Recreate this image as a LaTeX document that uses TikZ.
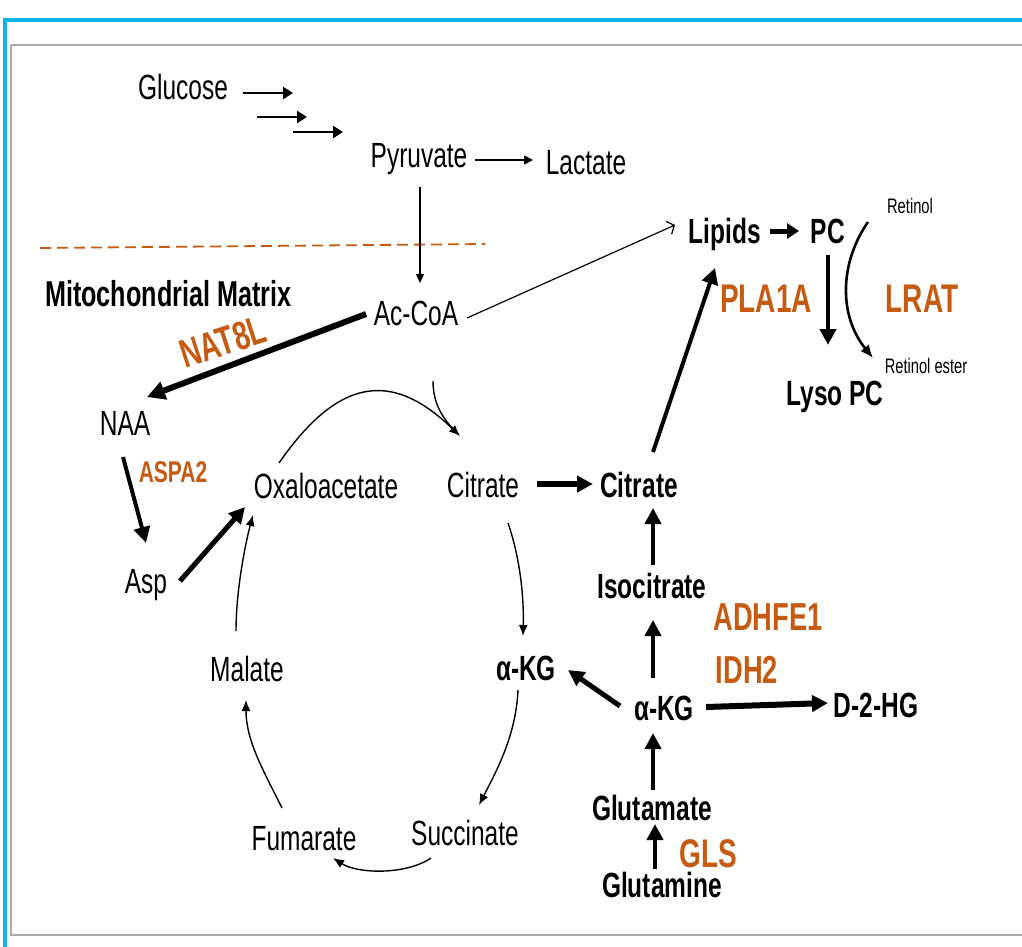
\documentclass[tikz,border=0pt]{standalone}
\usepackage{fontspec}
\setmainfont{Liberation Sans}[FakeStretch=0.7]
\usetikzlibrary{arrows.meta}
\definecolor{enzorange}{HTML}{C55A11}
\definecolor{framecyan}{HTML}{0BB4E4}
\definecolor{boxgray}{HTML}{AAAAAA}
\begin{document}
\begin{tikzpicture}[x=1pt,y=-1pt,
  met/.style={font=\fontsize{35}{42}\selectfont, anchor=base, inner sep=0pt},
  metb/.style={font=\fontsize{35}{42}\selectfont\bfseries, anchor=base, inner sep=0pt},
  enz/.style={font=\fontsize{40}{48}\selectfont\bfseries, text=enzorange, anchor=base, inner sep=0pt},
  smalllbl/.style={font=\fontsize{21}{25}\selectfont, anchor=base, inner sep=0pt},
  rxn/.style={line width=1.4pt, -{Latex[length=11pt,width=9pt]}},
  glyco/.style={line width=2.4pt, -{Triangle[length=10pt,width=12pt]}},
  flux/.style={line width=#1, -{Triangle[length=16pt,width=16pt]}},
  flux/.default=4.5pt,
  cshift/.style={shift={#1}}
]
\useasboundingbox (0,0) rectangle (1022,946);

% frame
\draw[framecyan, line width=4pt] (4.5,950) -- (4.5,20) -- (1030,20);
\draw[boxgray, line width=2pt] (11,45) -- (11,935) -- (1030,935) (11,45) -- (1030,45);

% membrane
\coordinate (memL) at (40,248);
\coordinate (memR) at (485,244);
\draw[enzorange, line width=1.8pt, dash pattern=on 11pt off 6pt] (memL) -- (memR);

% metabolites
\node[met]  (glc)  at (183,99)  {Glucose};
\node[met]  (pyr)  at (419,167) {Pyruvate};
\node[met]  (lac)  at (586,174) {Lactate};
\node[met]  (acoa) at (416,325) {Ac-CoA};
\node[font=\fontsize{36}{42}\selectfont\bfseries, anchor=base west, inner sep=0pt] (mito) at (45,306) {Mitochondrial Matrix};
\node[met]  (naa)  at (125,435) {NAA};
\node[met]  (asp)  at (146,593) {Asp};
\node[met]  (oxa)  at (326,498) {Oxaloacetate};
\node[met]  (cit)  at (483,497) {Citrate};
\node[metb] (citb) at (639,497) {Citrate};
\node[metb] (iso)  at (652,598) {Isocitrate};
\node[met]  (mal)  at (247,681) {Malate};
\node[metb] (akgl) at (526,680) {α-KG};
\node[metb] (akgr) at (664,720) {α-KG};
\node[metb] (d2hg) at (876,717) {D-2-HG};
\node[metb] (glut) at (652,820) {Glutamate};
\node[metb] (glnn) at (662,897) {Glutamine};
\node[met]  (fum)  at (304,850) {Fumarate};
\node[met]  (suc)  at (465,845) {Succinate};
\node[metb] (lip)  at (725,243) {Lipids};
\node[metb] (pc)   at (828,243) {PC};
\node[metb] (lyso) at (835,405) {Lyso PC};
\node[smalllbl] (ret)  at (910,213) {Retinol};
\node[smalllbl] (rete) at (926,373) {Retinol ester};

% enzymes
\node[enz, anchor=center, rotate=18] (nat) at (223,342) {NAT8L};
\node[enz, font=\fontsize{30}{36}\selectfont\bfseries] (aspa) at (173,482) {ASPA2};
\node[enz] (pla)  at (766,312) {PLA1A};
\node[enz] (lrat) at (922,312) {LRAT};
\node[enz, font=\fontsize{39}{46}\selectfont\bfseries] (adh) at (768,630) {ADHFE1};
\node[enz, font=\fontsize{39}{46}\selectfont\bfseries] (idh) at (747,683) {IDH2};
\node[enz] (gls)  at (708,867) {GLS};

% glycolysis steps
\draw[glyco] ([cshift={(60,-6)}]glc.base) -- ([cshift={(110,-6)}]glc.base);
\draw[glyco] ([cshift={(74,18)}]glc.base) -- ([cshift={(124,18)}]glc.base);
\draw[glyco] ([cshift={(110,33)}]glc.base) -- ([cshift={(160,33)}]glc.base);

\draw[line width=1.6pt, -{Triangle[length=9pt,width=9pt]}] ([cshift={(56,-7)}]pyr.base) -- ([cshift={(-53,-14)}]lac.base);
\draw[line width=1.2pt, -{Triangle[length=9pt,width=8pt]}] ([cshift={(1,20)}]pyr.base) -- ([cshift={(4,-42)}]acoa.base);

% acetyl-CoA branches
\draw[line width=1.2pt, -{Straight Barb[length=6pt,width=14pt]}] ([cshift={(51,-7)}]acoa.base) -- ([cshift={(-50,-18)}]lip.base);
\draw[flux=6pt, -{Triangle[length=18pt,width=18pt]}] ([cshift={(-50,-11)}]acoa.base) -- ([cshift={(22,-38)}]naa.base);
\draw[flux=4pt] ([cshift={(-2,22)}]naa.base) -- ([cshift={(0,-50)}]asp.base);
\draw[flux=5pt] ([cshift={(34,-12)}]asp.base) -- ([cshift={(-81,9)}]oxa.base);

% lipid side
\draw[flux=5pt, -{Triangle[length=12pt,width=15pt]}] ([cshift={(45,-12)}]lip.base) -- ([cshift={(-29,-12)}]pc.base);
\draw[flux=4pt] ([cshift={(0,12)}]pc.base) -- ([cshift={(-7,-60)}]lyso.base);
\draw[line width=2.6pt, -{Latex[length=13pt,width=11pt]}] ([cshift={(-42,9)}]ret.base) .. controls +(-28,40) and +(-35,-43) .. ([cshift={(-53,-15)}]rete.base);
\draw[flux=4pt] ([cshift={(14,-45)}]citb.base) -- ([cshift={(-10,25)}]lip.base);

% TCA cycle
\draw[rxn] ([cshift={(-47,-35)}]oxa.base) .. controls +(63,-91) and +(-64,-62) .. ([cshift={(-23,-61)}]cit.base);
\draw[line width=1.4pt] ([cshift={(17,56)}]acoa.base) .. controls +(0,25) and +(-12,-12) .. ([cshift={(-26,-64)}]cit.base);
\draw[rxn] ([cshift={(25,26)}]cit.base) .. controls +(12,35) and +(1,-40) .. ([cshift={(-3,-44)}]akgl.base);
\draw[rxn] ([cshift={(-8,10)}]akgl.base) .. controls +(-2,45) and +(18,-35) .. ([cshift={(14,-40)}]suc.base);
\draw[rxn] ([cshift={(-34,13)}]suc.base) .. controls +(-25,17) and +(25,16) .. ([cshift={(29,8)}]fum.base);
\draw[rxn] ([cshift={(-22,-42)}]fum.base) .. controls +(-20,-40) and +(0,40) .. ([cshift={(-1,19)}]mal.base);
\draw[rxn] ([cshift={(-11,-50)}]mal.base) .. controls +(0,-40) and +(-8,30) .. ([cshift={(-73,17)}]oxa.base);
\draw[flux=6pt] ([cshift={(54,-13)}]cit.base) -- ([cshift={(-46,-13)}]citb.base);

% glutamine / isocitrate branch
\draw[flux=4pt] ([cshift={(1,-33)}]iso.base) -- ([cshift={(14,11)}]citb.base);
\draw[flux=4pt] ([cshift={(-11,-42)}]akgr.base) -- ([cshift={(1,22)}]iso.base);
\draw[flux=6pt] ([cshift={(42,-13)}]akgr.base) -- ([cshift={(-48,-14)}]d2hg.base);
\draw[flux=5pt] ([cshift={(-44,-14)}]akgr.base) -- ([cshift={(42,-10)}]akgl.base);
\draw[flux=4pt] ([cshift={(1,-30)}]glut.base) -- ([cshift={(-11,13)}]akgr.base);
\draw[flux=4pt] ([cshift={(-7,-28)}]glnn.base) -- ([cshift={(3,4)}]glut.base);
\end{tikzpicture}
\end{document}
